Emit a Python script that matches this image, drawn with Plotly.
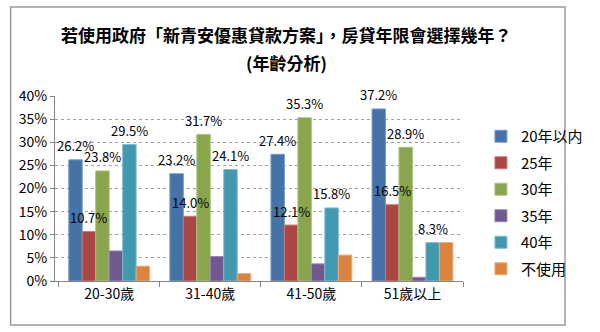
import plotly.graph_objects as go

categories = ["20-30歲", "31-40歲", "41-50歲", "51歲以上"]
series_names = ["20年以内", "25年", "30年", "35年", "40年", "不使用"]
v_20 = [26.2, 23.2, 27.4, 37.2]
v_25 = [10.7, 14.0, 12.1, 16.5]
v_30 = [23.8, 31.7, 35.3, 28.9]
v_35 = [6.5, 5.3, 3.7, 0.8]
v_40 = [29.5, 24.1, 15.8, 8.3]
v_no = [3.2, 1.6, 5.6, 8.3]
series_values = [v_20, v_25, v_30, v_35, v_40, v_no]
show_labels = [True, True, True, False, True, False]
y_ticks = [0, 5, 10, 15, 20, 25, 30, 35, 40]
y_tick_labels = [f"{t}%" for t in y_ticks]

colors = ["#4572A7", "#AA4643", "#89A54E", "#71588F", "#4198AF", "#DB843D"]
edges = ["#7d9cc6", "#c87a78", "#aac481", "#9a86b2", "#7cbdd0", "#eeaa77"]

FONT = "Noto Sans CJK TC"
BARGAP = 0.2
n = len(series_names)

fig = go.Figure()
for i, (name, vals) in enumerate(zip(series_names, series_values)):
    fig.add_trace(go.Bar(
        x=categories, y=vals, name=name, legendgroup=name,
        marker=dict(color=colors[i], line=dict(color=edges[i], width=1)),
        hoverinfo="skip",
    ))

# data labels above bars
for i, vals in enumerate(series_values):
    if not show_labels[i]:
        continue
    off = -(1 - BARGAP) / 2 + (i + 0.5) * (1 - BARGAP) / n
    for j, v in enumerate(vals):
        fig.add_annotation(x=j + off, y=v, xref="x", yref="y",
                           text=f"{v:.1f}%", showarrow=False,
                           yanchor="middle", yshift=14,
                           font=dict(family=FONT, size=13, color="#000000"))

L, R, T, B = 55, 113, 96, 51
W, H = 600, 332
pw, ph = W - L - R, H - T - B

def px_x(p):
    return (p - L) / pw

def px_y(p):
    return (H - B - p) / ph

fig.add_annotation(x=px_x(300), y=px_y(34), xref="paper", yref="paper",
                   text="<b>若使用政府「新青安優惠貸款方案」，房貸年限會選擇幾年？</b>",
                   showarrow=False, xanchor="center", yanchor="middle",
                   font=dict(family=FONT, size=17, color="#000000"))
fig.add_annotation(x=px_x(300), y=px_y(62), xref="paper", yref="paper",
                   text="<b>(年齡分析)</b>",
                   showarrow=False, xanchor="center", yanchor="middle",
                   font=dict(family=FONT, size=17, color="#000000"))

fig.add_shape(type="rect", xref="paper", yref="paper",
              x0=px_x(8), x1=px_x(595), y0=px_y(7), y1=px_y(325),
              line=dict(color="#9a9a9a", width=1.5), fillcolor="rgba(0,0,0,0)",
              layer="below")

fig.update_layout(
    width=W, height=H,
    margin=dict(l=L, r=R, t=T, b=B),
    paper_bgcolor="white", plot_bgcolor="white",
    barmode="group", bargap=BARGAP, bargroupgap=0,
    font=dict(family=FONT, size=14, color="#000000"),
    showlegend=True,
    legend=dict(x=px_x(506), y=px_y(120), xanchor="left", yanchor="top",
                font=dict(family=FONT, size=15, color="#000000"),
                tracegroupgap=4, itemwidth=30, bgcolor="rgba(0,0,0,0)"),
    xaxis=dict(showline=True, linecolor="#868686", linewidth=1,
               ticks="outside", tickson="boundaries", ticklen=5,
               tickcolor="#868686", showgrid=False,
               tickfont=dict(family=FONT, size=14, color="#000000")),
    yaxis=dict(range=[0, 40], tickmode="array", tickvals=y_ticks,
               ticktext=y_tick_labels,
               showline=True, linecolor="#868686", linewidth=1,
               ticks="outside", ticklen=4, tickcolor="#868686",
               showgrid=True, gridcolor="#a0a0a0", griddash="dot", gridwidth=1,
               zeroline=False,
               tickfont=dict(family=FONT, size=14, color="#000000")),
)

fig.write_html("out.html")
